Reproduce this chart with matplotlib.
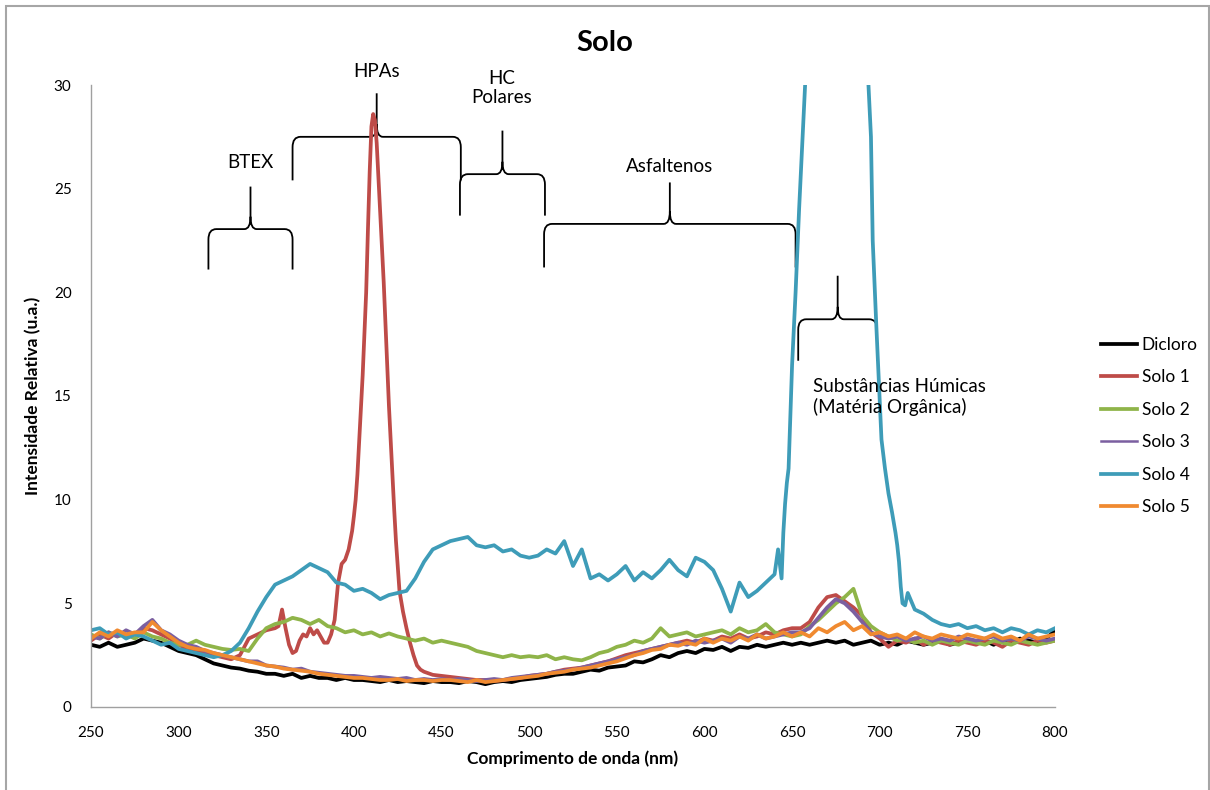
import numpy as np
import matplotlib
matplotlib.use('Agg')
import matplotlib.pyplot as plt
from matplotlib.path import Path
from matplotlib.patches import PathPatch, Rectangle

plt.rcParams['font.family'] = ['Lato', 'DejaVu Sans']

# comprimento de onda (nm), passo de 5 nm
wl = np.arange(250, 801, 5)

dicloro = [3.0, 2.9, 3.1, 2.9, 3.0, 3.1, 3.3, 3.2, 3.1, 2.9, 2.7,
           2.6, 2.5, 2.3, 2.1, 2.0, 1.9, 1.85, 1.75, 1.7, 1.6,
           1.6, 1.5, 1.6, 1.4, 1.5, 1.4, 1.4, 1.3, 1.4, 1.3,
           1.3, 1.25, 1.2, 1.3, 1.2, 1.25, 1.2, 1.15, 1.25, 1.2,
           1.2, 1.15, 1.25, 1.2, 1.1, 1.2, 1.25, 1.2, 1.3, 1.35,
           1.4, 1.45, 1.55, 1.6, 1.6, 1.7, 1.8, 1.75, 1.9, 1.95,
           2.0, 2.2, 2.15, 2.3, 2.5, 2.4, 2.6, 2.7, 2.6, 2.8,
           2.75, 2.9, 2.7, 2.9, 2.85, 3.0, 2.9, 3.0, 3.1, 3.0,
           3.1, 3.0, 3.1, 3.2, 3.1, 3.2, 3.0, 3.1, 3.2, 3.0,
           3.1, 3.0, 3.2, 3.1, 3.0, 3.1, 3.2, 3.0, 3.1, 3.2,
           3.1, 3.2, 3.0, 3.2, 3.1, 3.3, 3.2, 3.1, 3.3, 3.7]

# Solo 1: 250-355, pico 357-440, 445-800
solo1_lo = [3.2, 3.5, 3.3, 3.6, 3.4, 3.5, 3.8, 3.7, 3.5, 3.3, 3.0,
            2.8, 2.7, 2.6, 2.5, 2.4, 2.3, 2.5, 3.3, 3.5, 3.7, 3.8]
solo1_pk_x = [357, 359, 361, 363, 365, 367, 369, 371, 373, 375, 377, 379, 381, 383,
              385, 387, 389, 391, 393, 395, 397, 399, 400, 401, 402, 403, 404, 405,
              406, 407, 408, 409, 410, 411, 412, 413, 414, 415, 416, 417, 418, 419,
              420, 421, 422, 423, 424, 425, 426, 428, 430, 432, 434, 436, 438, 440]
solo1_pk_y = [3.9, 4.7, 3.8, 3.0, 2.6, 2.7, 3.2, 3.5, 3.4, 3.8, 3.5, 3.7, 3.4, 3.1,
              3.1, 3.5, 4.2, 6.0, 6.9, 7.1, 7.6, 8.5, 9.2, 10.0, 11.2, 12.8, 14.5, 16.0,
              18.0, 20.0, 23.0, 25.8, 28.0, 28.6, 28.3, 27.2, 25.5, 23.8, 22.0, 20.5, 18.5, 16.5,
              14.5, 12.8, 11.2, 9.5, 8.0, 6.8, 5.6, 4.6, 3.8, 3.1, 2.5, 2.0, 1.8, 1.7]
solo1_hi = [1.55, 1.5,
            1.45, 1.4, 1.35, 1.3, 1.3, 1.25, 1.3, 1.35, 1.4, 1.5,
            1.55, 1.6, 1.7, 1.8, 1.85, 1.9, 2.0, 2.1, 2.2, 2.35,
            2.5, 2.6, 2.7, 2.8, 2.9, 3.0, 3.1, 3.2, 3.1, 3.3,
            3.2, 3.4, 3.3, 3.5, 3.3, 3.4, 3.6, 3.5, 3.7, 3.8,
            3.8, 4.1, 4.8, 5.3, 5.4, 5.1, 4.8, 4.4, 3.6, 3.3,
            2.9, 3.2, 3.1, 3.3, 3.0, 3.2, 3.1, 3.0, 3.2, 3.1,
            3.0, 3.2, 3.1, 2.9, 3.2, 3.1, 3.0, 3.2, 3.1, 3.2]

solo2 = [3.5, 3.3, 3.6, 3.4, 3.5, 3.3, 3.6, 3.4, 3.3, 3.1, 3.0,
         3.0, 3.2, 3.0, 2.9, 2.8, 2.75, 2.8, 2.7, 3.3, 3.8,
         4.0, 4.1, 4.3, 4.2, 4.0, 4.2, 3.9, 3.8, 3.6, 3.7,
         3.5, 3.6, 3.4, 3.55, 3.4, 3.3, 3.2, 3.3, 3.1, 3.2,
         3.1, 3.0, 2.9, 2.7, 2.6, 2.5, 2.4, 2.5, 2.4, 2.45,
         2.4, 2.5, 2.3, 2.4, 2.3, 2.25, 2.4, 2.6, 2.7, 2.9,
         3.0, 3.2, 3.1, 3.3, 3.8, 3.4, 3.5, 3.6, 3.4, 3.5,
         3.6, 3.7, 3.5, 3.8, 3.6, 3.7, 4.0, 3.6, 3.5, 3.4,
         3.5, 3.9, 4.2, 4.6, 5.0, 5.3, 5.7, 4.4, 3.9, 3.6,
         3.4, 3.2, 3.3, 3.1, 3.2, 3.0, 3.2, 3.1, 3.0, 3.2,
         3.1, 3.0, 3.2, 3.1, 3.0, 3.2, 3.1, 3.0, 3.1, 3.2]

solo3 = [3.4, 3.3, 3.6, 3.4, 3.7, 3.5, 3.9, 4.2, 3.7, 3.5, 3.2,
         3.0, 2.9, 2.7, 2.6, 2.5, 2.4, 2.3, 2.2, 2.2, 2.0,
         1.95, 1.9, 1.8, 1.85, 1.7, 1.65, 1.6, 1.55, 1.5, 1.5,
         1.45, 1.4, 1.45, 1.4, 1.35, 1.4, 1.3, 1.35, 1.3, 1.35,
         1.3, 1.35, 1.3, 1.25, 1.3, 1.35, 1.3, 1.4, 1.45, 1.5,
         1.55, 1.6, 1.7, 1.75, 1.8, 1.9, 2.0, 2.1, 2.2, 2.3,
         2.4, 2.5, 2.7, 2.8, 2.9, 3.0, 3.1, 3.0, 3.2, 3.1,
         3.2, 3.3, 3.1, 3.4, 3.3, 3.5, 3.3, 3.4, 3.5, 3.6,
         3.6, 3.8, 4.3, 4.8, 5.2, 5.0, 4.6, 4.1, 3.6, 3.4,
         3.3, 3.4, 3.2, 3.3, 3.4, 3.2, 3.3, 3.2, 3.4, 3.3,
         3.2, 3.3, 3.4, 3.2, 3.3, 3.2, 3.4, 3.3, 3.2, 3.3]

# Solo 4: 250-640, pico 642-720, 725-800
solo4_lo = [3.7, 3.8, 3.5, 3.6, 3.3, 3.5, 3.4, 3.2, 3.0, 3.1, 2.8,
            2.7, 2.6, 2.5, 2.4, 2.5, 2.7, 3.1, 3.8, 4.6, 5.3,
            5.9, 6.1, 6.3, 6.6, 6.9, 6.7, 6.5, 6.0, 5.9, 5.6,
            5.7, 5.5, 5.2, 5.4, 5.5, 5.6, 6.2, 7.0, 7.6, 7.8,
            8.0, 8.1, 8.2, 7.8, 7.7, 7.8, 7.5, 7.6, 7.3, 7.2,
            7.3, 7.6, 7.4, 8.0, 6.8, 7.6, 6.2, 6.4, 6.1, 6.4,
            6.8, 6.1, 6.5, 6.2, 6.6, 7.1, 6.6, 6.3, 7.2, 7.0,
            6.6, 5.7, 4.6, 6.0, 5.3, 5.6, 6.0, 6.4]
solo4_pk_x = [642, 644, 645, 646, 647, 648, 649, 650, 652, 654, 656, 658, 662, 670,
              680, 688, 693, 695, 696, 698, 701, 703, 705, 707, 709, 710, 711, 712,
              713, 714.5, 716, 718, 720]
solo4_pk_y = [7.6, 6.2, 8.4, 9.8, 10.8, 11.5, 14.0, 16.5, 20.0, 24.0, 27.5, 31.0, 40.0, 50.0,
              52.0, 45.0, 31.0, 27.5, 22.5, 18.5, 12.9, 11.5, 10.3, 9.4, 8.4, 7.8, 7.0, 5.8,
              5.0, 4.9, 5.5, 5.1, 4.7]
solo4_hi = [4.5, 4.2, 4.0, 3.9, 4.0, 3.8, 3.9, 3.7, 3.8, 3.6, 3.8, 3.7, 3.5, 3.7, 3.6, 3.8]

solo5 = [3.3, 3.6, 3.4, 3.7, 3.5, 3.6, 3.6, 4.1, 3.7, 3.4, 3.1,
         2.9, 2.8, 2.75, 2.6, 2.5, 2.4, 2.3, 2.2, 2.1, 2.0,
         1.95, 1.85, 1.8, 1.75, 1.7, 1.6, 1.55, 1.5, 1.45, 1.4,
         1.4, 1.35, 1.3, 1.3, 1.35, 1.25, 1.3, 1.3, 1.25, 1.3,
         1.3, 1.25, 1.2, 1.3, 1.2, 1.25, 1.3, 1.35, 1.4, 1.45,
         1.5, 1.6, 1.65, 1.7, 1.8, 1.85, 1.9, 2.0, 2.1, 2.2,
         2.35, 2.5, 2.6, 2.75, 2.8, 3.0, 2.95, 3.1, 3.0, 3.3,
         3.1, 3.3, 3.2, 3.4, 3.2, 3.5, 3.3, 3.4, 3.6, 3.4,
         3.6, 3.4, 3.8, 3.6, 3.9, 4.1, 3.7, 3.9, 3.5, 3.6,
         3.4, 3.5, 3.3, 3.6, 3.4, 3.3, 3.5, 3.4, 3.3, 3.5,
         3.4, 3.3, 3.5, 3.3, 3.4, 3.2, 3.5, 3.3, 3.4, 3.5]

# rótulos das faixas: (texto, x esquerdo, x direito, base, linha, topo, texto x, texto y)
faixas = [
    ('BTEX', 317, 365, 21.1, 23.05, 25.1, 341, 26.24),
    ('HPAs', 365, 461, 25.4, 27.5, 29.6, 413, 30.63),
    ('HC\nPolares', 460.5, 509, 23.7, 25.7, 27.8, 484.5, 29.86),
    ('Asfaltenos', 508.5, 652, 21.2, 23.3, 25.3, 580, 26.05),
]
humicas = ('Substâncias Húmicas\n(Matéria Orgânica)', 653.5, 698.5, 16.7, 18.7, 20.8, 662, 14.93)

cores = {'Dicloro': '#000000', 'Solo 1': '#be4b48', 'Solo 2': '#8fb449',
         'Solo 3': '#7b5fa0', 'Solo 4': '#3e9cb8', 'Solo 5': '#f08a30'}


def chave(ax, x0, x1, yb, yh, yt):
    # chave horizontal com a ponta para cima
    xc = (x0 + x1) / 2
    rx, ry = 4.5, 0.5
    cx, cy = 3.5, 0.6
    verts = [(x0, yb), (x0, yh - ry), (x0, yh), (x0 + rx, yh),
             (xc - cx, yh), (xc, yh), (xc, yh + cy), (xc, yt),
             (xc, yh + cy), (xc, yh), (xc + cx, yh),
             (x1 - rx, yh), (x1, yh), (x1, yh - ry), (x1, yb)]
    codes = [Path.MOVETO, Path.LINETO, Path.CURVE3, Path.CURVE3,
             Path.LINETO, Path.CURVE3, Path.CURVE3, Path.LINETO,
             Path.MOVETO, Path.CURVE3, Path.CURVE3,
             Path.LINETO, Path.CURVE3, Path.CURVE3, Path.LINETO]
    ax.add_patch(PathPatch(Path(verts, codes), fill=False, lw=1.3, color='black'))


fig = plt.figure(figsize=(12.1, 7.9), dpi=100)
ax = fig.add_axes([0.0752, 0.1051, 0.7967, 0.7873])

x1 = np.concatenate([wl[:22], solo1_pk_x, wl[39:]])
y1 = np.concatenate([solo1_lo, solo1_pk_y, solo1_hi])
x4 = np.concatenate([wl[:79], solo4_pk_x, wl[95:]])
y4 = np.concatenate([solo4_lo, solo4_pk_y, solo4_hi])

lw = 2.7
ax.plot(wl, dicloro, color=cores['Dicloro'], lw=lw, label='Dicloro')
ax.plot(x1, y1, color=cores['Solo 1'], lw=lw, label='Solo 1')
ax.plot(wl, solo2, color=cores['Solo 2'], lw=lw, label='Solo 2')
ax.plot(wl, solo3, color=cores['Solo 3'], lw=lw, label='Solo 3')
ax.plot(x4, y4, color=cores['Solo 4'], lw=lw, label='Solo 4')
ax.plot(wl, solo5, color=cores['Solo 5'], lw=lw, label='Solo 5')

for txt, a, b, yb, yh, yt, tx, ty in faixas:
    chave(ax, a, b, yb, yh, yt)
    ax.text(tx, ty, txt, ha='center', va='center', fontsize=13.5, linespacing=1.1)
txt, a, b, yb, yh, yt, tx, ty = humicas
chave(ax, a, b, yb, yh, yt)
ax.text(tx, ty, txt, ha='left', va='center', fontsize=13.5, linespacing=1.2)

ax.set_xlim(250, 800)
ax.set_ylim(0, 30)
ax.set_xticks(np.arange(250, 801, 50))
ax.set_yticks(np.arange(0, 31, 5))
ax.tick_params(length=0, labelsize=11, pad=14)
for s in ['top', 'right']:
    ax.spines[s].set_visible(False)
for s in ['left', 'bottom']:
    ax.spines[s].set_color('#a0a0a0')
    ax.spines[s].set_linewidth(1)

ax.set_xlabel('Comprimento de onda (nm)', fontsize=12.5, fontweight='bold', labelpad=7)
ax.set_ylabel('Intensidade Relativa (u.a.)', fontsize=12.5, fontweight='bold', labelpad=9)
fig.text(0.5, 0.945, 'Solo', ha='center', va='center', fontsize=21, fontweight='bold')

leg = fig.legend(loc='center left', bbox_to_anchor=(0.897, 1 - 426 / 790), frameon=False,
                 fontsize=12.5, handlelength=2.1, handletextpad=0.25, labelspacing=0.95)
leg.get_lines()[3].set_linewidth(1.8)

fig.patches.append(Rectangle((6 / 1210, -0.01), 1203 / 1210, 1 - 6 / 790 + 0.01,
                             transform=fig.transFigure, fill=False, edgecolor='#a6a6a6', lw=1.5))

plt.savefig('out.png', dpi=100)
